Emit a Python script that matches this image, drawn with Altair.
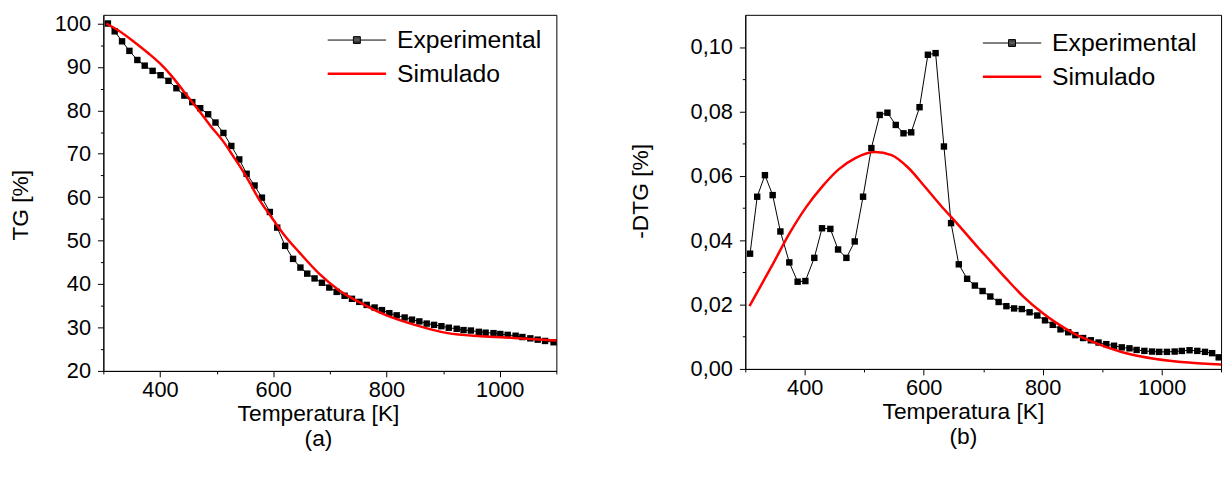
import altair as alt
import pandas as pd

FONT = "Liberation Sans"

# ---------------- data ----------------
series_names = ["Experimental", "Simulado"]
series_colors = ["black", "red"]

# (a) TG experimental
tg_T = [308, 320, 333, 346, 360, 373, 387, 401, 415, 429,
        443, 457, 471, 485, 498, 512, 526, 540, 553, 567,
        580, 594, 607, 621, 635, 648, 660, 673, 686, 699,
        712, 726, 739, 752, 765, 779, 792, 805, 818, 832,
        845, 858, 871, 884, 897, 910, 924, 936, 949, 963,
        975, 989, 1001, 1014, 1028, 1040, 1054, 1067, 1080, 1095]
tg_exp = [100.0, 98.2, 95.9, 93.7, 91.6, 90.3, 89.1, 88.1, 86.8, 85.1,
          83.4, 81.9, 80.5, 79.1, 77.2, 74.8, 71.8, 68.7, 65.4, 62.7,
          59.9, 56.6, 53.0, 48.8, 45.8, 43.8, 42.4, 41.3, 40.3, 39.2,
          38.2, 37.3, 36.6, 35.9, 35.2, 34.6, 34.0, 33.3, 32.8, 32.3,
          31.8, 31.4, 30.9, 30.6, 30.3, 29.95, 29.7, 29.4, 29.3, 29.0,
          28.8, 28.7, 28.5, 28.3, 28.1, 27.8, 27.5, 27.2, 26.9, 26.6]

# (a) TG simulated
tgs_T = [305, 330, 355, 380, 400, 420, 440, 450, 472, 490, 512, 530, 547, 560, 573,
         587, 600, 620, 646, 681, 716, 751, 798, 850, 908, 967, 1025, 1100]
tgs_val = [100.0, 98.1, 95.7, 93.1, 90.8, 88.0, 84.7, 83.0, 79.4, 76.3, 72.8, 69.3, 65.9, 63.0, 59.9,
           57.2, 54.8, 51.2, 47.3, 42.4, 38.6, 35.9, 32.9, 30.6, 28.7, 28.0, 27.6, 27.0]

# (b) -DTG experimental
dtg_T = [308, 320, 333, 346, 359, 374, 388, 401, 416, 429,
         443, 456, 470, 484, 498, 512, 526, 539, 553, 566,
         579, 593, 607, 620, 634, 646, 659, 673, 686, 699,
         712, 726, 739, 752, 765, 778, 791, 804, 817, 830,
         843, 855, 868, 881, 894, 907, 920, 933, 946, 958,
         971, 984, 996, 1009, 1022, 1034, 1047, 1060, 1073, 1085, 1096]
dtg_exp = [0.0358, 0.0535, 0.0602, 0.0540, 0.0427, 0.0331, 0.0271, 0.0273, 0.0345, 0.0437,
           0.0435, 0.0371, 0.0345, 0.0396, 0.0535, 0.0686, 0.0789, 0.0796, 0.0758, 0.0732,
           0.0735, 0.0813, 0.0976, 0.0981, 0.0691, 0.0453, 0.0325, 0.0280, 0.0259, 0.0242,
           0.0225, 0.0208, 0.0195, 0.0188, 0.0186, 0.0176, 0.0166, 0.0151, 0.0137, 0.0123,
           0.0114, 0.0105, 0.0096, 0.0089, 0.0082, 0.0077, 0.0072, 0.0067, 0.0064, 0.0059,
           0.0056, 0.0054, 0.0053, 0.0053, 0.0054, 0.0056, 0.0058, 0.0056, 0.0053, 0.0049, 0.0036]

# (b) -DTG simulated
dtgs_T = [307, 326, 347, 374, 402, 430, 457, 485, 518, 546, 574, 602, 629,
          657, 690, 712, 740, 768, 801, 823, 850, 879, 934, 990, 1045, 1100]
dtgs_val = [0.0195, 0.0258, 0.0328, 0.0420, 0.0502, 0.0568, 0.0620, 0.0655, 0.0674, 0.0664,
            0.0625, 0.0566, 0.0507, 0.0450, 0.0380, 0.0335, 0.0278, 0.0224, 0.0172, 0.0143,
            0.0113, 0.0088, 0.0052, 0.0031, 0.0020, 0.0014]

x_major = [400, 600, 800, 1000]
x_minor = [300, 500, 700, 900, 1100]
tg_major = [20, 30, 40, 50, 60, 70, 80, 90, 100]
tg_minor = [25, 35, 45, 55, 65, 75, 85, 95]
dtg_major = [0.0, 0.02, 0.04, 0.06, 0.08, 0.10]
dtg_minor = [0.01, 0.03, 0.05, 0.07, 0.09]

# legend symbols (custom paths): line with a small filled square / plain line
PATH_EXP = ("M-2.95,0H2.95M-0.35,-0.35H0.35V0.35H-0.35Z"
            "M-0.35,-0.23H0.35M-0.35,-0.12H0.35M-0.35,0.12H0.35M-0.35,0.23H0.35")
PATH_SIM = "M-2.95,0H2.95"


def panel(exp_T, exp_v, sim_T, sim_v, ydomain, ymajor, yminor, ytitle, caption,
          width, height, ylabel_expr, ytitle_pad, ytitle_y, xtitle_x, leg_x, leg_y):
    df_exp = pd.DataFrame({"T": exp_T, "v": exp_v})
    df_sim = pd.DataFrame({"T": sim_T, "v": sim_v, "serie": series_names[1]})

    xs = alt.Scale(domain=[300, 1100], nice=False, zero=False)
    ys = alt.Scale(domain=ydomain, nice=False, zero=False)

    y_main_kw = dict(orient="left", values=ymajor, tickSize=6, labelPadding=7,
                     title=ytitle, titlePadding=ytitle_pad, labelFlush=False,
                     titleY=ytitle_y)
    if ylabel_expr:
        y_main_kw["labelExpr"] = ylabel_expr

    x_main = alt.Axis(orient="bottom", values=x_major, tickSize=6, labelPadding=3,
                      format="d", labelFlush=False, title=["Temperatura [K]", caption],
                      titlePadding=2, titleLineHeight=25, titleX=xtitle_x,
                      titleAlign="center", titleAnchor="start")
    x_min = alt.Axis(orient="bottom", values=x_minor, tickSize=3, labels=False,
                     domain=False, title=None)
    y_main = alt.Axis(**y_main_kw)
    y_min = alt.Axis(orient="left", values=yminor, tickSize=3, labels=False,
                     domain=False, title=None)

    line = alt.Chart(df_exp).mark_line(color="black", strokeWidth=1).encode(
        x=alt.X("T:Q", scale=xs, axis=x_main),
        y=alt.Y("v:Q", scale=ys, axis=y_main),
    )
    pts = alt.Chart(df_exp).mark_point(shape="square", filled=True, size=42,
                                       color="black", opacity=1).encode(
        x=alt.X("T:Q", scale=xs, axis=x_min),
        y=alt.Y("v:Q", scale=ys, axis=y_min),
    )
    sim = alt.Chart(df_sim).mark_line(color="red", strokeWidth=2.5,
                                      interpolate="monotone").encode(
        x=alt.X("T:Q", scale=xs, axis=None),
        y=alt.Y("v:Q", scale=ys, axis=None),
    )
    leg = alt.Legend(title=None, orient="none", legendX=leg_x, legendY=leg_y,
                     direction="vertical", labelFont=FONT, labelFontSize=25,
                     labelColor="black", symbolSize=400, symbolOffset=19.5,
                     labelOffset=28, rowPadding=8, padding=0)
    legend_layer = alt.Chart(df_sim).transform_filter("false").mark_point(
        filled=False, opacity=1).encode(
        x=alt.X("T:Q", scale=xs, axis=None),
        y=alt.Y("v:Q", scale=ys, axis=None),
        color=alt.Color("serie:N", scale=alt.Scale(domain=series_names, range=series_colors),
                        legend=leg),
        shape=alt.Shape("serie:N", scale=alt.Scale(domain=series_names, range=[PATH_EXP, PATH_SIM]),
                        legend=leg),
        strokeWidth=alt.StrokeWidth("serie:N",
                                    scale=alt.Scale(type="ordinal", domain=series_names, range=[1, 2.5]),
                                    legend=leg),
    )
    return alt.layer(line, pts, sim, legend_layer).resolve_axis(
        x="independent", y="independent"
    ).properties(width=width, height=height)


left = panel(tg_T, tg_exp, tgs_T, tgs_val, [20, 102], tg_major, tg_minor, "TG [%]", "(a)",
             458, 360, None, 21.5, 192, 217, 224.3, 13)
right = panel(dtg_T, dtg_exp, dtgs_T, dtgs_val, [0, 0.11], dtg_major, dtg_minor, "-DTG [%]", "(b)",
              481, 358, "replace(format(datum.value, '.2f'), '.', ',')", 38, 178, 220, 237.7, 16)

chart = alt.hconcat(left, right, spacing=191, bounds="flush").resolve_scale(
    color="independent", shape="independent", strokeWidth="independent"
).resolve_legend(
    color="independent", shape="independent", strokeWidth="independent"
).properties(
    padding={"left": 9.5, "top": 9.5, "right": 0, "bottom": 0}
).configure_view(
    stroke="black", strokeWidth=1
).configure_axis(
    grid=False, domainColor="black", tickColor="black", labelColor="black",
    titleColor="black", labelFont=FONT, titleFont=FONT, labelFontSize=22,
    titleFontSize=23, titleFontWeight="normal", domainWidth=1, tickWidth=1
).configure_concat(spacing=191)

chart.save("out.html", embed_options={"renderer": "svg", "actions": False})
